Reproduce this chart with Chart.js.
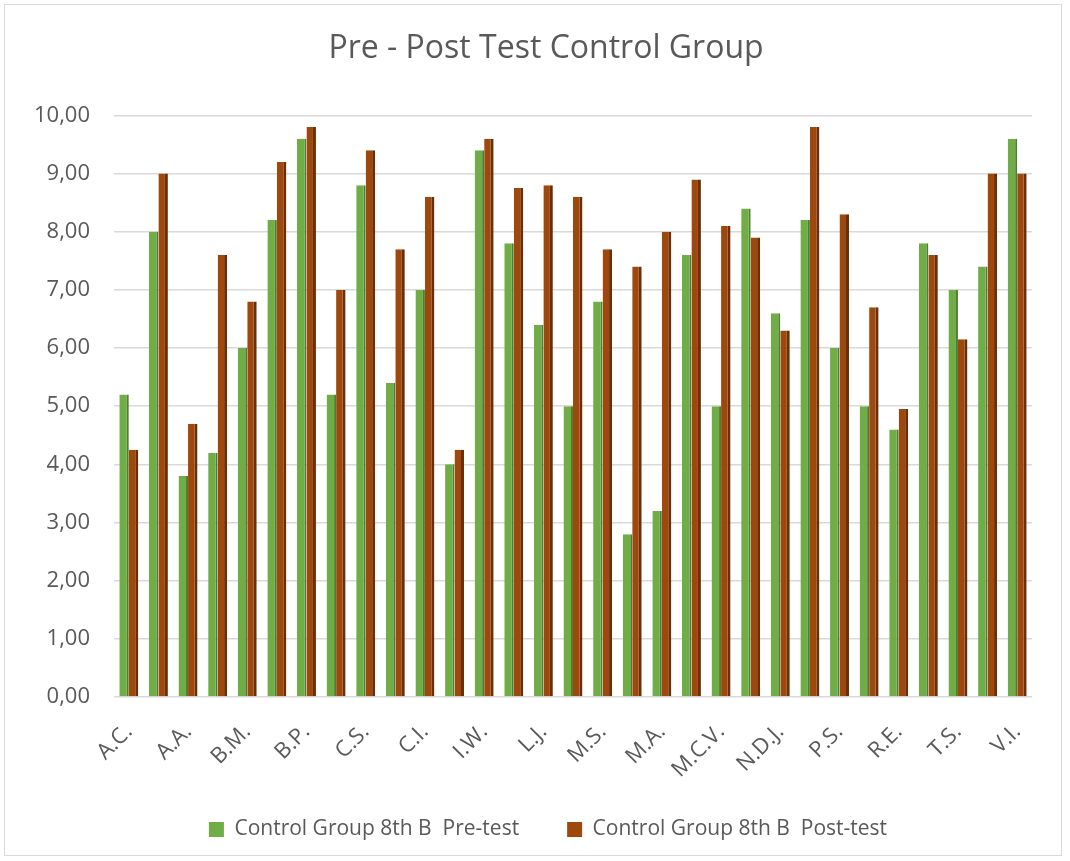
<!DOCTYPE html>
<html>
<head>
<meta charset="utf-8">
<script src="https://cdn.jsdelivr.net/npm/chart.js@4.4.1/dist/chart.umd.min.js"></script>
<style>
    html, body { margin: 0; padding: 0; background: #ffffff; }
    #wrap { position: relative; width: 1070px; height: 861px; }
    #frame {
        position: absolute; left: 4px; top: 4px; width: 1058px; height: 852px;
        border: 1px solid #d9d9d9; box-sizing: border-box; pointer-events: none;
    }
</style>
</head>
<body>
<div id="wrap">
    <canvas id="scoreChart" width="1070" height="861"></canvas>
    <div id="frame"></div>
</div>
<script>
// students (only every other name is printed on the axis)
const students = [
    "A.C.", "A.D.", "A.A.", "B.A.", "B.M.", "B.N.", "B.P.", "C.A.",
    "C.S.", "C.D.", "C.I.", "D.M.", "I.W.", "K.L.", "L.J.", "L.M.",
    "M.S.", "M.C.", "M.A.", "M.B.", "M.C.V.", "M.D.", "N.D.J.", "N.A.",
    "P.S.", "P.R.", "R.E.", "S.A.", "T.S.", "T.V.", "V.I."
];

const preTest = [
    5.2, 8.0, 3.8, 4.2, 6.0, 8.2, 9.6, 5.2,
    8.8, 5.4, 7.0, 4.0, 9.4, 7.8, 6.4, 5.0,
    6.8, 2.8, 3.2, 7.6, 5.0, 8.4, 6.6, 8.2,
    6.0, 5.0, 4.6, 7.8, 7.0, 7.4, 9.6
];

const postTest = [
    4.25, 9.0, 4.7, 7.6, 6.8, 9.2, 9.8, 7.0,
    9.4, 7.7, 8.6, 4.25, 9.6, 8.75, 8.8, 8.6,
    7.7, 7.4, 8.0, 8.9, 8.1, 7.9, 6.3, 9.8,
    8.3, 6.7, 4.95, 7.6, 6.15, 9.0, 9.0
];

const yTicks = [0, 1, 2, 3, 4, 5, 6, 7, 8, 9, 10];

const textColor = "#595959";
const fontFamily = "'Open Sans', 'Noto Sans', sans-serif";

// title and legend sit a bit right of the plot centre in the original,
// and the legend is closer to the axis labels than its padding allows
const nudgeBlocks = {
    id: "nudgeBlocks",
    afterLayout(chart) {
        chart.titleBlock.left += 20;
        chart.titleBlock.right += 20;
        chart.legend.left += 22;
        chart.legend.right += 22;
        chart.legend.top -= 21;
        chart.legend.bottom -= 21;
    },
};

const ctx = document.getElementById("scoreChart").getContext("2d");

new Chart(ctx, {
    type: "bar",
    data: {
        labels: students,
        datasets: [
            {
                label: "Control Group 8th B  Pre-test",
                data: preTest,
                backgroundColor: "#70ad47",
                borderColor: "#4f7d31",
                borderWidth: { top: 0, right: 2, bottom: 0, left: 0 },
                borderSkipped: false,
                categoryPercentage: 0.64,
                barPercentage: 1.0,
            },
            {
                label: "Control Group 8th B  Post-test",
                data: postTest,
                backgroundColor: "#9e480e",
                borderColor: "#6a2f08",
                borderWidth: { top: 0, right: 3, bottom: 0, left: 0 },
                borderSkipped: false,
                categoryPercentage: 0.64,
                barPercentage: 1.0,
            },
        ],
    },
    plugins: [nudgeBlocks],
    options: {
        responsive: false,
        animation: false,
        layout: {
            padding: { top: 20, left: 20, right: 38, bottom: 0 },
        },
        plugins: {
            title: {
                display: true,
                text: "Pre - Post Test Control Group",
                color: textColor,
                font: { family: fontFamily, size: 32, weight: "normal" },
                padding: { top: 10, bottom: 47 },
            },
            legend: {
                position: "bottom",
                maxHeight: 69,
                labels: {
                    color: textColor,
                    font: { family: fontFamily, size: 21 },
                    boxWidth: 15,
                    boxHeight: 15,
                    padding: 48,
                    generateLabels: (chart) => {
                        const items = Chart.defaults.plugins.legend.labels.generateLabels(chart);
                        items.forEach((item, i) => {
                            item.fillStyle = chart.data.datasets[i].backgroundColor;
                            item.strokeStyle = chart.data.datasets[i].backgroundColor;
                            item.lineWidth = 0;
                        });
                        return items;
                    },
                },
            },
            tooltip: { enabled: false },
        },
        scales: {
            x: {
                grid: { display: false },
                border: { display: false },
                afterFit: (scale) => {
                    scale.height = 95;
                },
                ticks: {
                    color: textColor,
                    font: { family: fontFamily, size: 22 },
                    autoSkip: false,
                    minRotation: 45,
                    maxRotation: 45,
                    padding: 14,
                    callback: (value, index) => (index % 2 === 0 ? students[index] : ""),
                },
            },
            y: {
                min: 0,
                max: 10,
                afterBuildTicks: (scale) => {
                    scale.ticks = yTicks.map((v) => ({ value: v }));
                },
                afterFit: (scale) => {
                    scale.width = 94;
                },
                grid: { color: "#d9d9d9", lineWidth: 1.5, drawTicks: false },
                border: { display: false },
                ticks: {
                    color: textColor,
                    font: { family: fontFamily, size: 22 },
                    padding: 24,
                    callback: (value) => value.toFixed(2).replace(".", ","),
                },
            },
        },
    },
});
</script>
</body>
</html>
